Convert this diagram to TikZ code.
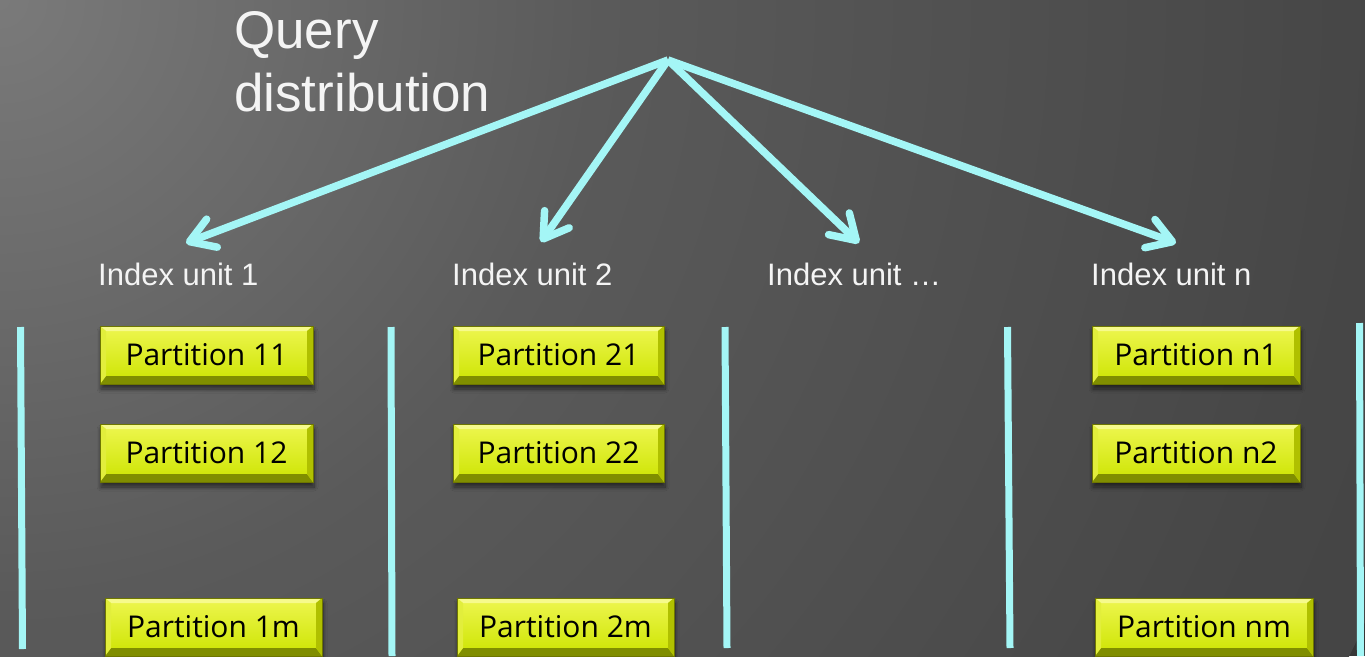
\documentclass[tikz,border=0pt]{standalone}
\usepackage{fontspec}
\setmainfont{Liberation Sans}
\newfontfamily\partfont{Open Sans}
\usetikzlibrary{arrows.meta,calc,shadows.blur}

\definecolor{flow}{RGB}{164,246,246}
\definecolor{bgA}{RGB}{122,122,122}
\definecolor{bgB}{RGB}{90,90,90}
\definecolor{bgC}{RGB}{70,70,70}
\definecolor{bgD}{RGB}{54,54,54}
\definecolor{faceTop}{RGB}{238,246,80}
\definecolor{faceBot}{RGB}{204,228,0}
\definecolor{bevTop}{RGB}{246,250,140}
\definecolor{bevLeft}{RGB}{226,238,60}
\definecolor{bevRight}{RGB}{176,192,0}
\definecolor{bevBot}{RGB}{128,142,0}
\definecolor{rim}{RGB}{110,118,0}
\definecolor{ink}{RGB}{244,244,244}

% soft glow from the upper left corner
\pgfdeclareradialshading{bgglow}{\pgfpoint{0bp}{0bp}}{%
  color(0bp)=(bgA); color(10bp)=(bgB); color(23bp)=(bgC);
  color(47bp)=(bgD); color(50bp)=(bgD)}

\tikzset{
  title/.style={font=\fontsize{53}{64}\selectfont, text=ink, anchor=base west, inner sep=0pt},
  unit/.style={font=\fontsize{31}{37}\selectfont, text=ink, anchor=base west, inner sep=0pt},
  flowarrow/.style={draw=flow, line width=7.5pt,
    -{Straight Barb[length=24pt,width=30pt,round]}},
  separator/.style={draw=flow, line width=7pt},
  partbox/.style={minimum width=#1, minimum height=58pt, inner sep=0pt,
    draw=rim, line width=0.8pt, top color=faceTop, bottom color=faceBot,
    font=\partfont\fontsize{30}{36}\selectfont, text=black,
    blur shadow={shadow xshift=1pt, shadow yshift=-5pt, shadow blur steps=8,
      shadow opacity=55, shadow blur radius=4pt},
    path picture={
      \coordinate (ppnw) at (path picture bounding box.north west);
      \coordinate (ppne) at (path picture bounding box.north east);
      \coordinate (ppsw) at (path picture bounding box.south west);
      \coordinate (ppse) at (path picture bounding box.south east);
      \fill[bevTop] (ppnw) -- (ppne) -- ($(ppne)+(-6pt,-5pt)$) -- ($(ppnw)+(6pt,-5pt)$) -- cycle;
      \fill[bevBot] (ppsw) -- (ppse) -- ($(ppse)+(-6pt,8pt)$) -- ($(ppsw)+(6pt,8pt)$) -- cycle;
      \fill[bevLeft] (ppnw) -- (ppsw) -- ($(ppsw)+(6pt,8pt)$) -- ($(ppnw)+(6pt,-5pt)$) -- cycle;
      \fill[bevRight] (ppne) -- (ppse) -- ($(ppse)+(-6pt,8pt)$) -- ($(ppne)+(-6pt,-5pt)$) -- cycle;
    }},
  partbox/.default=213pt,
}

\begin{document}
\begin{tikzpicture}[x=1pt, y=-1pt]
  \useasboundingbox (0,0) rectangle (1365,656);
  \clip (0,0) rectangle (1365,656);
  \fill[bgD] (0,0) rectangle (1365,656);
  \shade[shading=bgglow] (0,0) circle (1500pt);

  % heading
  \node[title] (q1) at (234,48) {Query};
  \node[title] (q2) at (234,111) {distribution};

  % index unit captions
  \node[unit] (u1) at (98,285) {Index unit 1};
  \node[unit] (u2) at (452,285) {Index unit 2};
  \node[unit] (u3) at (767,285) {Index unit …};
  \node[unit] (u4) at (1091,285) {Index unit n};

  % query fan-out
  \coordinate (src) at (668,60);
  \coordinate (t1) at (186,243);
  \coordinate (t2) at (541,242);
  \coordinate (t3) at (859,243);
  \coordinate (t4) at (1176,243);
  \foreach \t in {t1,t2,t3,t4}
    \draw[flowarrow] (src) -- (\t);

  % column separators
  \draw[separator] (20.5,327) -- (22.5,649);
  \draw[separator] (391,327) -- (392,656);
  \draw[separator] (725,327) -- (727,648);
  \draw[separator] (1007.5,327) -- (1010,648);
  \draw[separator] (1359.5,323) -- (1360.5,656);

  % partitions
  \node[partbox] (p11) at (206.5,355) {Partition 11};
  \node[partbox] (p12) at (206.5,453) {Partition 12};
  \node[partbox=217pt] (p1m) at (213.5,627) {Partition 1m};
  \node[partbox=211pt] (p21) at (558.5,355) {Partition 21};
  \node[partbox=211pt] (p22) at (558.5,453) {Partition 22};
  \node[partbox=217pt] (p2m) at (565.5,627) {Partition 2m};
  \node[partbox=208pt] (pn1) at (1196,355) {Partition n1};
  \node[partbox=208pt] (pn2) at (1196,453) {Partition n2};
  \node[partbox=218pt] (pnm) at (1204,627) {Partition nm};
\end{tikzpicture}
\end{document}
